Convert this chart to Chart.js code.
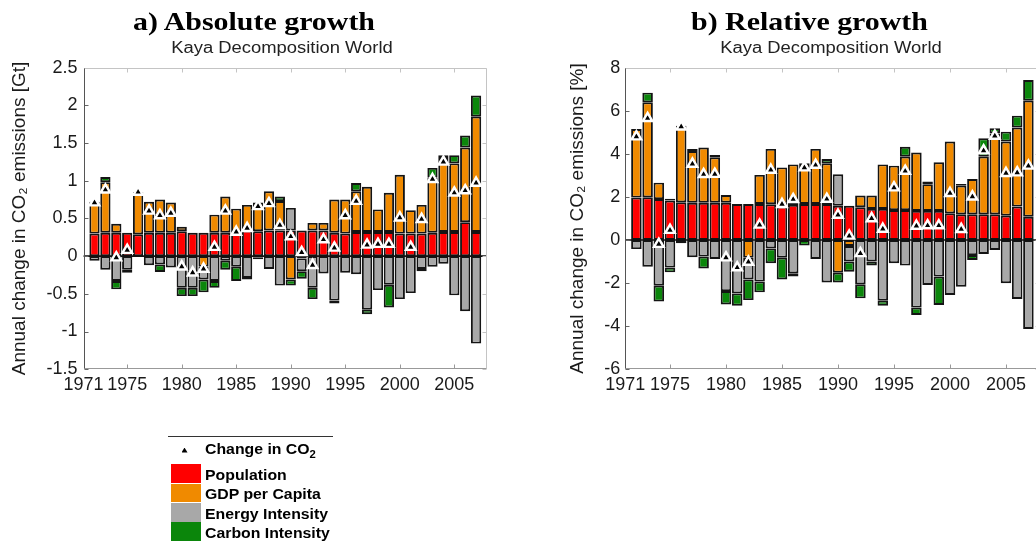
<!DOCTYPE html>
<html>
<head>
<meta charset="utf-8">
<script src="https://cdn.jsdelivr.net/npm/chart.js@4.4.0/dist/chart.umd.min.js"></script>
<style>
    html, body { margin: 0; padding: 0; background: #fff; }
    body { position: relative; width: 1036px; height: 544px; overflow: hidden; }
    canvas { position: absolute; top: 0; }
    #chart-abs { left: 0; }
    #chart-rel { left: 540px; }
    .panel-title {
        position: absolute; top: 9px; white-space: nowrap; color: #000;
        font-family: 'Liberation Serif', 'Times New Roman', serif;
        font-weight: bold; font-size: 26px; line-height: 26px;
        transform: scaleX(1.15); transform-origin: left top;
    }
    .panel-sub {
        position: absolute; top: 40px; width: 300px; text-align: center; white-space: nowrap; color: #222;
        font-family: 'Liberation Sans', Arial, sans-serif; font-size: 16px; line-height: 16px;
        transform: scaleX(1.15); transform-origin: center top;
    }
    .lg { position: absolute; }
    .lg-text {
        position: absolute; left: 205px; white-space: nowrap; color: #000;
        font-family: 'Liberation Sans', Arial, sans-serif; font-weight: bold;
        font-size: 14px; line-height: 14px;
        transform: scaleX(1.13); transform-origin: left top;
    }
    .lg-text sub { font-size: 10px; vertical-align: -4px; line-height: 0; }
</style>
</head>
<body>
<canvas id="chart-abs" width="518" height="544"></canvas>
<canvas id="chart-rel" width="520" height="544"></canvas>

<div class="panel-title" style="left:133px">a) Absolute growth</div>
<div class="panel-title" style="left:691px">b) Relative growth</div>
<div class="panel-sub" style="left:132px">Kaya Decomposition World</div>
<div class="panel-sub" style="left:681px">Kaya Decomposition World</div>

<div id="legend"></div>

<script>
// Years shown as bars (x axis runs 1971 - 2008)
const years = [1972, 1973, 1974, 1975, 1976, 1977, 1978, 1979, 1980, 1981,
               1982, 1983, 1984, 1985, 1986, 1987, 1988, 1989, 1990, 1991,
               1992, 1993, 1994, 1995, 1996, 1997, 1998, 1999, 2000, 2001,
               2002, 2003, 2004, 2005, 2006, 2007];
const xTickYears = [1971, 1975, 1980, 1985, 1990, 1995, 2000, 2005];

// a) Absolute growth [Gt CO2 per year]
const absPopulation = [0.30, 0.31, 0.31, 0.31, 0.29, 0.31, 0.31, 0.31, 0.33, 0.31,
                       0.31, 0.31, 0.31, 0.31, 0.34, 0.33, 0.34, 0.34, 0.34, 0.34,
                       0.34, 0.34, 0.31, 0.30, 0.32, 0.32, 0.32, 0.32, 0.30, 0.30,
                       0.30, 0.31, 0.32, 0.32, 0.45, 0.32];
const absGdpPerCapita = [0.42, 0.67, 0.12, 0.00, 0.56, 0.41, 0.44, 0.40, 0.06, 0.00,
                         -0.14, 0.24, 0.48, 0.32, 0.34, 0.38, 0.52, 0.39, -0.31, -0.03,
                         0.10, 0.10, 0.44, 0.45, 0.54, 0.60, 0.30, 0.52, 0.78, 0.31,
                         0.38, 0.73, 0.97, 0.91, 0.99, 1.53];
const absEnergyIntensity = [-0.06, -0.18, -0.33, -0.18, 0.00, -0.12, -0.11, -0.15, -0.42, -0.42,
                            -0.17, -0.33, -0.06, -0.14, -0.29, -0.02, -0.17, -0.39, 0.30, -0.17,
                            -0.42, -0.23, -0.59, -0.22, -0.24, -0.71, -0.45, -0.38, -0.57, -0.49,
                            -0.17, -0.14, -0.10, -0.52, -0.73, -1.16];
const absCarbonIntensity = [0.00, 0.07, -0.11, -0.04, 0.00, 0.00, -0.10, 0.00, -0.11, -0.11,
                            -0.17, -0.09, -0.12, -0.19, -0.02, -0.02, 0.00, 0.06, -0.08, -0.10,
                            -0.15, 0.00, -0.04, 0.00, 0.11, -0.06, 0.00, -0.30, 0.00, 0.00,
                            -0.03, 0.13, 0.05, 0.11, 0.16, 0.28];
const absChangeCO2 = [0.71, 0.88, -0.02, 0.08, 0.85, 0.60, 0.54, 0.57, -0.14, -0.22,
                      -0.17, 0.12, 0.60, 0.32, 0.37, 0.66, 0.70, 0.41, 0.26, 0.05,
                      -0.12, 0.22, 0.11, 0.54, 0.73, 0.15, 0.16, 0.16, 0.51, 0.12,
                      0.49, 1.02, 1.25, 0.84, 0.87, 0.97];

// b) Relative growth [% per year]
const relPopulation = [1.97, 1.98, 1.90, 1.83, 1.75, 1.73, 1.73, 1.73, 1.73, 1.67,
                       1.67, 1.67, 1.66, 1.55, 1.63, 1.67, 1.67, 1.67, 1.59, 1.59,
                       1.52, 1.44, 1.44, 1.39, 1.39, 1.35, 1.35, 1.35, 1.24, 1.19,
                       1.19, 1.19, 1.19, 1.13, 1.55, 1.08];
const relGdpPerCapita = [3.18, 4.41, 0.76, 0.08, 3.55, 2.40, 2.56, 2.11, 0.36, 0.00,
                         -0.82, 1.35, 2.57, 1.82, 1.88, 1.89, 2.56, 1.89, -1.52, -0.28,
                         0.54, 0.62, 2.07, 2.06, 2.48, 2.71, 1.24, 2.26, 3.33, 1.33,
                         1.64, 2.68, 3.76, 3.44, 3.67, 5.39];
const relEnergyIntensity = [-0.42, -1.24, -2.12, -1.28, 0.00, -0.80, -0.77, -0.88, -2.37, -2.48,
                            -1.01, -1.93, -0.39, -0.82, -1.55, 0.00, -0.88, -1.97, 1.46, -0.72,
                            -2.06, -1.00, -2.82, -1.08, -1.19, -3.14, -2.09, -1.70, -2.55, -2.17,
                            -0.70, -0.65, -0.46, -2.01, -2.74, -4.13];
const relCarbonIntensity = [0.00, 0.45, -0.74, -0.22, -0.15, 0.10, -0.55, 0.11, -0.62, -0.57,
                            -0.96, -0.50, -0.69, -1.01, -0.15, -0.26, 0.00, 0.20, -0.45, -0.47,
                            -0.65, -0.19, -0.23, 0.00, 0.46, -0.34, 0.12, -1.32, 0.00, 0.08,
                            -0.23, 0.85, 0.24, 0.46, 0.55, 0.96];
const relChangeCO2 = [4.80, 5.65, -0.19, 0.46, 5.26, 3.53, 3.05, 3.06, -0.82, -1.28,
                      -1.02, 0.70, 3.25, 1.66, 1.89, 3.36, 3.48, 1.90, 1.16, 0.19,
                      -0.62, 1.00, 0.51, 2.43, 3.20, 0.65, 0.67, 0.67, 2.17, 0.50,
                      2.01, 4.15, 4.83, 3.10, 3.13, 3.44];

const seriesNames = ['Population', 'GDP per Capita', 'Energy Intensity', 'Carbon Intensity'];
const seriesColors = ['#ff0000', '#f08a00', '#a8a8a8', '#0b860b'];

Chart.defaults.font.family = "'Liberation Sans', Arial, sans-serif";
Chart.defaults.color = '#1a1a1a';

// MATLAB style box: inward ticks on all four sides, plus the zero line under the markers
const matlabFrame = {
    id: 'matlabFrame',
    beforeDatasetDraw(chart, args) {
        if (args.meta.type !== 'line') return;
        const { ctx, chartArea: a } = chart;
        const y0 = chart.scales.y.getPixelForValue(0);
        ctx.save();
        ctx.strokeStyle = '#111';
        ctx.lineWidth = 1.6;
        ctx.beginPath();
        ctx.moveTo(a.left, y0);
        ctx.lineTo(a.right, y0);
        ctx.stroke();
        ctx.restore();
    },
    afterDraw(chart) {
        const { ctx, chartArea: a, scales } = chart;
        const seg = (x1, y1, x2, y2, color) => {
            ctx.strokeStyle = color;
            ctx.beginPath();
            ctx.moveTo(x1, y1);
            ctx.lineTo(x2, y2);
            ctx.stroke();
        };
        const L = Math.round(a.left) + 0.5, R = Math.round(a.right) - 0.5;
        const T = Math.round(a.top) + 0.5, B = Math.round(a.bottom) - 0.5;
        ctx.save();
        ctx.lineWidth = 1;
        scales.x.ticks.forEach(t => {
            const px = Math.round(scales.x.getPixelForValue(t.value)) + 0.5;
            seg(px, B, px, B - 4, '#999');
            seg(px, T, px, T + 4, '#c4c4c4');
        });
        scales.y.ticks.forEach(t => {
            const py = Math.round(scales.y.getPixelForValue(t.value)) + 0.5;
            seg(L, py, L + 4, py, '#666');
            seg(R, py, R - 4, py, '#c4c4c4');
        });
        seg(L, T, R, T, '#c4c4c4');
        seg(R, T, R, B, '#c4c4c4');
        seg(L, B, R, B, '#999');
        seg(L, T, L, B, '#555');
        ctx.restore();
    }
};

function buildDatasets(parts, change) {
    const points = arr => years.map((yr, i) => ({ x: yr, y: arr[i] }));
    const bars = parts.map((arr, k) => ({
        type: 'bar',
        label: seriesNames[k],
        data: points(arr),
        backgroundColor: seriesColors[k],
        borderColor: '#141414',
        borderWidth: 1.9,
        borderSkipped: false,
        barPercentage: 1.0,
        categoryPercentage: 0.94
    }));
    const markers = {
        type: 'line',
        label: 'Change in CO2',
        data: points(change),
        stack: 'co2',
        order: -1,
        showLine: false,
        pointStyle: 'triangle',
        pointRadius: 5.5,
        pointBackgroundColor: '#000',
        pointBorderColor: '#fff',
        pointBorderWidth: 2.4
    };
    return [markers].concat(bars);
}

function makeKayaChart(canvasId, parts, change, yCfg, box) {
    const ctx = document.getElementById(canvasId).getContext('2d');
    return new Chart(ctx, {
        type: 'bar',
        data: { datasets: buildDatasets(parts, change) },
        options: {
            responsive: false,
            animation: false,
            events: [],
            layout: { padding: box.padding },
            scales: {
                x: {
                    type: 'linear',
                    min: 1971,
                    max: 2008,
                    offset: false,
                    stacked: true,
                    grid: { display: false, drawTicks: false },
                    border: { display: false },
                    afterBuildTicks: scale => { scale.ticks = xTickYears.map(v => ({ value: v })); },
                    afterFit: scale => { scale.height = 30; },
                    ticks: {
                        autoSkip: false,
                        maxRotation: 0,
                        minRotation: 0,
                        padding: 5,
                        font: { size: 18 },
                        callback: v => String(v)
                    }
                },
                y: {
                    min: yCfg.min,
                    max: yCfg.max,
                    stacked: true,
                    grid: { display: false, drawTicks: false },
                    border: { display: false },
                    afterFit: scale => { scale.width = box.yWidth; },
                    ticks: {
                        stepSize: yCfg.step,
                        padding: box.tickPad,
                        font: { size: 18 },
                        callback: v => String(Number(v.toFixed(2)))
                    },
                    title: {
                        display: true,
                        text: yCfg.title,
                        font: { size: 19 },
                        padding: { top: 3, bottom: 4 }
                    }
                }
            },
            plugins: {
                legend: { display: false },
                tooltip: { enabled: false }
            }
        },
        plugins: [matlabFrame]
    });
}

makeKayaChart('chart-abs',
    [absPopulation, absGdpPerCapita, absEnergyIntensity, absCarbonIntensity], absChangeCO2,
    { min: -1.5, max: 2.5, step: 0.5, title: 'Annual change in CO\u2082 emissions [Gt]' },
    { padding: { left: 5, right: 31, top: 67.7, bottom: 144.8 }, yWidth: 78.6, tickPad: 6 });

makeKayaChart('chart-rel',
    [relPopulation, relGdpPerCapita, relEnergyIntensity, relCarbonIntensity], relChangeCO2,
    { min: -6, max: 8, step: 2, title: 'Annual change in CO\u2082 emissions [%]' },
    { padding: { left: 23.2, right: 20.4, top: 67.7, bottom: 144.8 }, yWidth: 62, tickPad: 5 });

// Legend below panel a)
function buildLegend() {
    const host = document.getElementById('legend');
    let html = '<div class="lg" style="left:168px;top:436px;width:165px;height:1px;background:#333"></div>';
    html += '<div class="lg" style="left:181.5px;top:447.5px;width:6px;height:5px;background:#000;' +
            'clip-path:polygon(50% 0,100% 100%,0 100%)"></div>';
    html += '<div class="lg-text" style="top:441.5px">Change in CO<sub>2</sub></div>';
    seriesNames.forEach((name, i) => {
        const top = 464.3 + i * 19.3;
        html += '<div class="lg" style="left:171px;top:' + top + 'px;width:30px;height:18.7px;background:' +
                seriesColors[i] + '"></div>';
        html += '<div class="lg-text" style="top:' + (467.6 + i * 19.5) + 'px">' + name + '</div>';
    });
    host.innerHTML = html;
}
buildLegend();
</script>
</body>
</html>
